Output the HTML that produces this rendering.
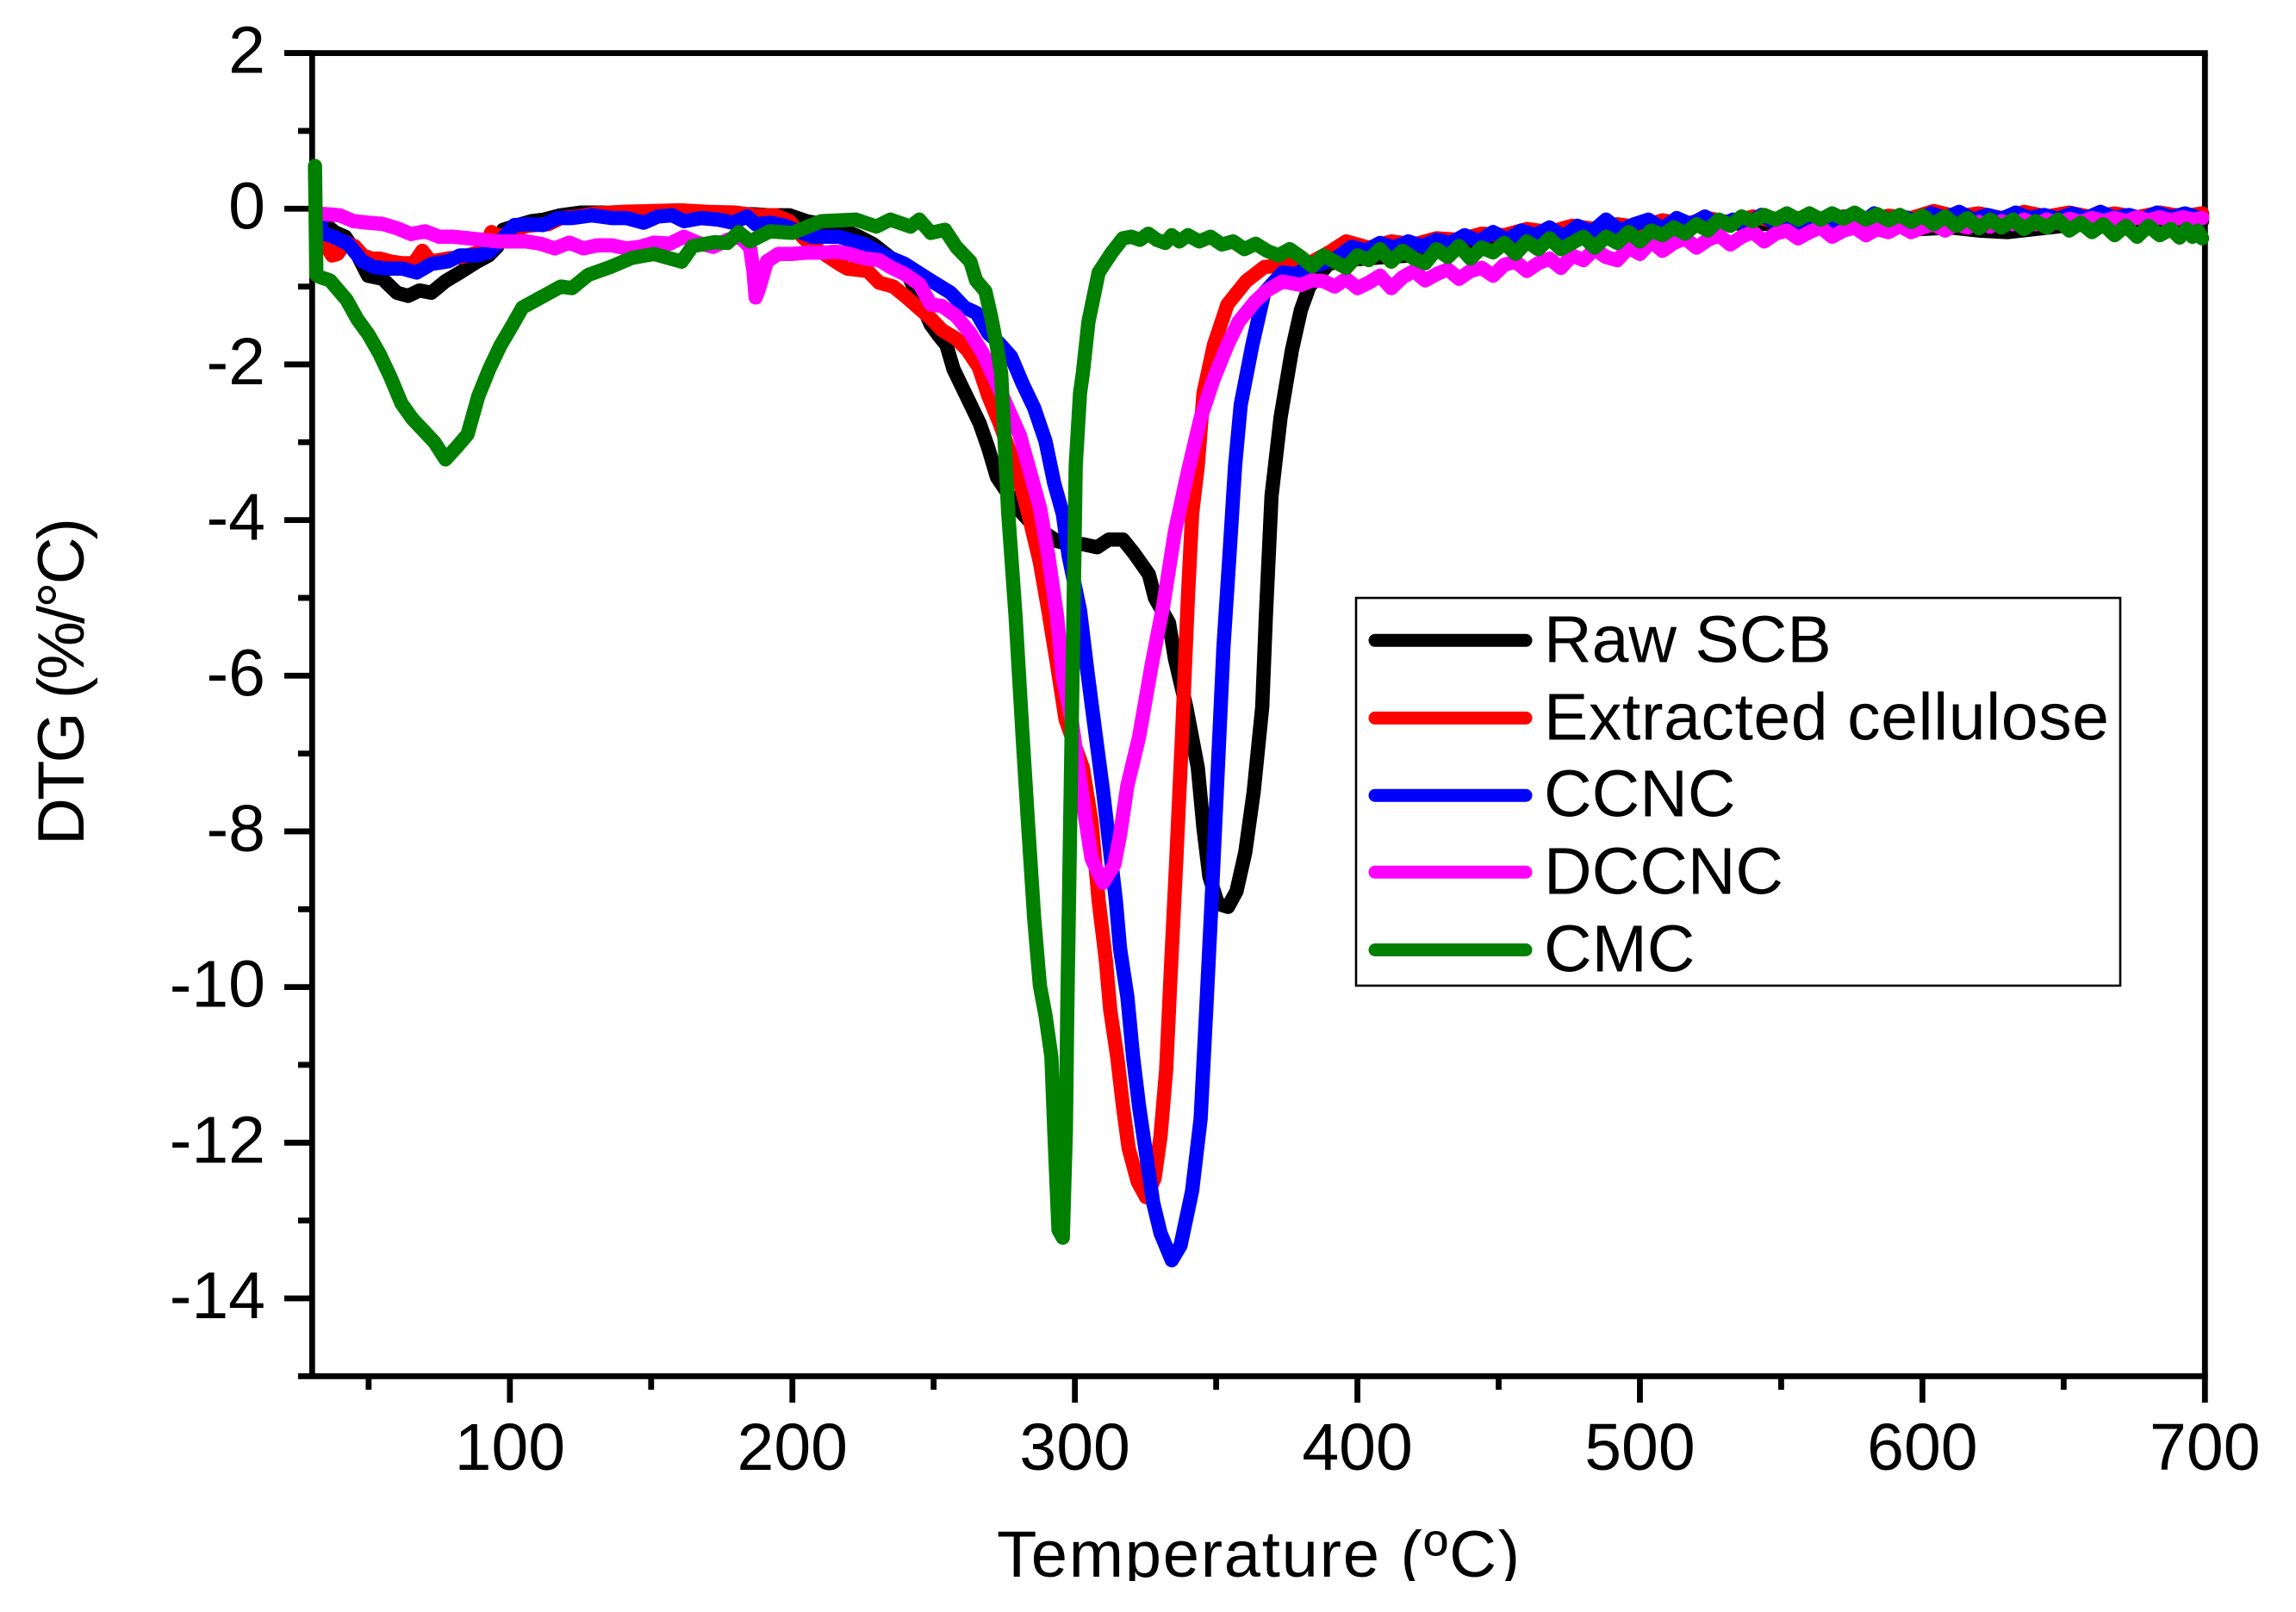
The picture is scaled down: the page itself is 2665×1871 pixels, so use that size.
<!DOCTYPE html>
<html lang="en">
<head>
<meta charset="utf-8">
<title>DTG curves</title>
<style>
html,body{margin:0;padding:0;background:#fff;}
svg{display:block;}
text{font-family:"Liberation Sans",Arial,sans-serif;fill:#000;}
</style>
</head>
<body>
<svg id="chart" xmlns="http://www.w3.org/2000/svg" width="2665" height="1871" viewBox="0 0 2665 1871">
  <defs>
    <clipPath id="title-clip"><rect x="1100" y="1740" width="760" height="95"/></clipPath>
  </defs>
  <rect x="0" y="0" width="2665" height="1871" fill="#fff"/>
  <g id="axes"></g>
  <g id="series"></g>
  <text transform="translate(97,981) rotate(-90)" font-size="76" textLength="380" lengthAdjust="spacing">DTG (%/°C)</text>
  <g clip-path="url(#title-clip)">
    <text x="1157" y="1830" font-size="76" textLength="607" lengthAdjust="spacing">Temperature (ºC)</text>
  </g>
  <g>
    <rect x="1574" y="694" width="887" height="450" fill="#fff" stroke="#000" stroke-width="2.6"/>
    <line x1="1596" x2="1771" y1="743.3" y2="743.3" stroke="#000" stroke-width="15" stroke-linecap="round"/>
    <line x1="1596" x2="1771" y1="833.4" y2="833.4" stroke="#f00" stroke-width="15" stroke-linecap="round"/>
    <line x1="1596" x2="1771" y1="923.2" y2="923.2" stroke="#00f" stroke-width="15" stroke-linecap="round"/>
    <line x1="1596" x2="1771" y1="1012.3" y2="1012.3" stroke="#f0f" stroke-width="15" stroke-linecap="round"/>
    <line x1="1596" x2="1771" y1="1102.5" y2="1102.5" stroke="#008000" stroke-width="15" stroke-linecap="round"/>
    <text x="1792" y="768.6" font-size="77">Raw SCB</text>
    <text x="1792" y="858.7" font-size="77" textLength="656" lengthAdjust="spacing">Extracted cellulose</text>
    <text x="1792" y="947.5" font-size="77">CCNC</text>
    <text x="1792" y="1037.6" font-size="77">DCCNC</text>
    <text x="1792" y="1127.7" font-size="77">CMC</text>
  </g>
</svg>
<script>
var xMajorTicks = [100,200,300,400,500,600,700];
var xMinorTicks = [50,150,250,350,450,550,650];
var yMajorTicks = [2,0,-2,-4,-6,-8,-10,-12,-14];
var yMinorTicks = [1,-1,-3,-5,-7,-9,-11,-13];
var xDomain = [30,700];
var yDomain = [-15,2];

var rawTemps = [32,35.6,38,41.7,45.7,49.8,54.9,60,64,68,72.2,77.2,82.3,88.4,92.5,95.5,97.6,102,107.7,112,117.9,125,133,140,150,160,170,178,186,192,199,205,215.4,223.6,228.6,233.7,240,243.9,249,252,254.5,257,262.2,266.3,269.3,272.4,275.4,279.5,283.5,288.6,293.7,297.8,302.8,307.9,312,317,321,326.2,328.3,333.3,335.4,339.4,343.5,345.5,347.6,350.6,354.2,357.2,360.3,363.3,366.3,367.6,369.6,372.8,376.8,380,383,389.7,396,402.6,410,419,430,440,450,460,470,480,490,500,510,520,530,540,550,560,570,580,590,600,610,620,630,640,650,660,670,680,690,699];
var rawDTG = [-0.2,-0.23,-0.3,-0.36,-0.57,-0.86,-0.9,-1.08,-1.12,-1.05,-1.08,-0.93,-0.82,-0.68,-0.6,-0.49,-0.27,-0.22,-0.16,-0.14,-0.085,-0.05,-0.05,-0.06,-0.05,-0.06,-0.05,-0.07,-0.07,-0.085,-0.085,-0.16,-0.23,-0.36,-0.455,-0.6,-0.78,-1.08,-1.49,-1.64,-1.75,-2.06,-2.45,-2.76,-3.07,-3.45,-3.61,-3.84,-4.0,-4.15,-4.27,-4.31,-4.31,-4.35,-4.25,-4.25,-4.43,-4.7,-5.0,-5.32,-5.78,-6.4,-7.18,-7.96,-8.58,-8.93,-8.97,-8.77,-8.27,-7.49,-6.4,-5.24,-3.69,-2.68,-1.82,-1.3,-1.0,-0.71,-0.66,-0.64,-0.62,-0.6,-0.52,-0.46,-0.38,-0.34,-0.28,-0.26,-0.24,-0.22,-0.2,-0.2,-0.18,-0.2,-0.19,-0.2,-0.22,-0.24,-0.22,-0.26,-0.24,-0.28,-0.3,-0.26,-0.22,-0.2,-0.18,-0.16,-0.18,-0.16,-0.2];

var celluloseTemps = [32,34.6,37,39,42,45,48,51,54,58,62,66,69,72,78,83,90,93.5,96,100,106,112,113.5,118,124,130,140,150,160,170,180,187,194,199,204,210,217,219.5,226.6,230.7,235.7,239.8,243.9,249,253,258,262,266,269.3,273.4,279.5,283.5,287.6,290.6,293.7,296.7,299.5,302.8,305.9,308.4,311,312.5,315,317,319,322.2,325.2,328.2,330.3,332.3,333.8,335.9,337.9,340,341.5,343.5,345.5,349.2,354,360.6,367,375,383,390,396,404,412,420,428,436,444,452,460,468,476,484,492,500,508,516,524,532,540,548,556,564,572,580,588,596,604,612,620,628,636,644,652,660,668,676,684,692,699];
var celluloseDTG = [-0.28,-0.45,-0.6,-0.58,-0.43,-0.48,-0.6,-0.64,-0.64,-0.68,-0.7,-0.7,-0.54,-0.68,-0.64,-0.62,-0.55,-0.3,-0.36,-0.3,-0.22,-0.2,-0.2,-0.12,-0.1,-0.06,-0.04,-0.03,-0.02,-0.04,-0.05,-0.085,-0.085,-0.16,-0.38,-0.55,-0.72,-0.77,-0.8,-0.95,-1.0,-1.12,-1.25,-1.41,-1.56,-1.67,-1.82,-2.04,-2.4,-2.76,-3.38,-3.92,-4.54,-5.16,-5.86,-6.56,-6.85,-7.18,-7.88,-8.89,-9.67,-10.29,-10.9,-11.53,-12.07,-12.5,-12.7,-12.46,-11.92,-11.06,-9.9,-8.35,-6.79,-5.0,-3.92,-3.3,-2.37,-1.75,-1.23,-0.93,-0.75,-0.72,-0.7,-0.56,-0.42,-0.5,-0.42,-0.46,-0.38,-0.4,-0.32,-0.34,-0.26,-0.3,-0.22,-0.26,-0.2,-0.24,-0.15,-0.2,-0.12,-0.18,-0.1,-0.16,-0.12,-0.14,-0.1,-0.15,-0.09,-0.12,-0.03,-0.1,-0.06,-0.12,-0.04,-0.1,-0.05,-0.11,-0.06,-0.11,-0.05,-0.1,-0.06,-0.12,-0.07];

var ccncTemps = [33,33.6,37.6,42.7,47.8,51.9,57,62,67,72.2,78.3,82.3,88.4,92.5,97,101.6,106.7,111.8,116.9,122,129,136,141.3,147.4,152.4,157.5,161.6,167.7,173.8,178.9,184,187,192,197,207,216.4,225.6,232.7,239.8,248,256,261,265.2,269.3,273,277.4,281.5,285.6,289.6,292.7,295.7,297.8,301.8,304.4,306.9,310,312,314.5,316,318.6,320.6,322.7,325.2,327.7,330.3,334.3,337.4,341.5,344.5,346.5,348.6,350.6,352.6,354.7,356.7,358.7,362.8,367,373.5,378,383,388,393,398,403,408,413,418,423,428,433,438,443,448,453,458,463,468,473,478,483,488,493,498,503,508,513,518,523,528,533,538,543,548,553,558,563,568,573,578,583,588,593,598,603,608,613,618,623,628,633,638,643,648,653,658,663,668,673,678,683,688,693,698];
var ccncDTG = [-0.18,-0.31,-0.36,-0.45,-0.675,-0.75,-0.77,-0.77,-0.82,-0.71,-0.675,-0.6,-0.6,-0.56,-0.4,-0.21,-0.2,-0.21,-0.12,-0.12,-0.085,-0.12,-0.12,-0.18,-0.1,-0.085,-0.16,-0.12,-0.14,-0.18,-0.1,-0.2,-0.18,-0.215,-0.36,-0.36,-0.455,-0.6,-0.71,-0.9,-1.08,-1.27,-1.34,-1.6,-1.72,-1.9,-2.25,-2.56,-2.99,-3.53,-3.92,-4.46,-5.16,-5.94,-6.64,-7.49,-8.11,-8.89,-9.51,-10.13,-10.9,-11.53,-12.15,-12.77,-13.16,-13.51,-13.32,-12.62,-11.69,-10.29,-8.74,-7.18,-5.63,-4.46,-3.3,-2.52,-1.75,-1.08,-0.82,-0.84,-0.75,-0.7,-0.62,-0.49,-0.54,-0.44,-0.5,-0.42,-0.48,-0.4,-0.44,-0.34,-0.42,-0.3,-0.4,-0.28,-0.34,-0.24,-0.36,-0.22,-0.3,-0.14,-0.28,-0.2,-0.14,-0.26,-0.12,-0.2,-0.1,-0.22,-0.14,-0.2,-0.08,-0.18,-0.1,-0.2,-0.12,-0.18,-0.1,-0.2,-0.06,-0.14,-0.1,-0.16,-0.06,-0.12,-0.04,-0.14,-0.08,-0.13,-0.05,-0.12,-0.08,-0.13,-0.06,-0.12,-0.04,-0.12,-0.08,-0.13,-0.05,-0.11,-0.06,-0.12,-0.04,-0.11,-0.07,-0.11,-0.05,-0.09];

var dccncTemps = [32,33.5,39.7,44.7,49.8,54.9,60,65,70,75,80,85.4,90.5,95.5,100.6,105.7,110.8,115.9,121,126,131,136,141.3,146,151,156.5,161.6,166.7,172,177,181,183,185,186.2,187,188,191,195,200,205,211,215.4,220.5,225.6,230.7,234.7,239.8,245,249,253,258,263,267.3,274.4,280.5,283.5,287.6,290.6,293.7,295.7,298.8,301.8,303.9,305.9,310,314,316,318.6,322.7,327.2,331.3,335.4,340,344.4,349,354,358,363.8,368,373.5,380,384,388,392,396,400,404,408,412,416,420,424,428,432,436,440,444,448,452,456,460,464,468,472,476,480,484,488,492,496,500,504,508,512,516,520,524,528,532,536,540,544,548,552,556,560,564,568,572,576,580,584,588,592,596,600,604,608,612,616,620,624,628,632,636,640,644,648,652,656,660,664,668,672,676,680,684,688,692,696,699];
var dccncDTG = [-0.05,-0.066,-0.085,-0.16,-0.18,-0.195,-0.25,-0.325,-0.29,-0.36,-0.36,-0.38,-0.4,-0.42,-0.42,-0.42,-0.45,-0.51,-0.435,-0.51,-0.47,-0.47,-0.51,-0.49,-0.435,-0.45,-0.36,-0.44,-0.49,-0.4,-0.36,-0.42,-0.5,-0.8,-1.14,-1.05,-0.676,-0.58,-0.58,-0.565,-0.565,-0.55,-0.584,-0.64,-0.66,-0.75,-0.84,-0.97,-1.23,-1.25,-1.38,-1.6,-1.85,-2.41,-2.91,-3.3,-3.84,-4.46,-5.24,-6.02,-6.56,-7.34,-7.88,-8.35,-8.66,-8.42,-8.04,-7.41,-6.79,-5.86,-5.09,-4.15,-3.38,-2.7,-2.2,-1.75,-1.45,-1.19,-1.05,-0.935,-0.98,-0.92,-0.93,-1.0,-0.9,-1.02,-0.95,-0.86,-1.02,-0.88,-0.8,-0.92,-0.84,-0.78,-0.9,-0.8,-0.76,-0.86,-0.72,-0.68,-0.8,-0.7,-0.64,-0.76,-0.6,-0.66,-0.52,-0.62,-0.66,-0.5,-0.58,-0.42,-0.54,-0.44,-0.38,-0.5,-0.4,-0.34,-0.46,-0.36,-0.3,-0.42,-0.32,-0.28,-0.38,-0.3,-0.24,-0.36,-0.28,-0.24,-0.34,-0.26,-0.3,-0.22,-0.3,-0.24,-0.2,-0.28,-0.2,-0.24,-0.17,-0.23,-0.16,-0.2,-0.14,-0.2,-0.14,-0.18,-0.13,-0.17,-0.12,-0.16,-0.12,-0.16,-0.11,-0.15,-0.11,-0.15,-0.11,-0.14,-0.12];

var cmcTemps = [31,31.5,33,36.3,42.2,46,50,53.8,57.7,61.6,65.5,69.4,73.3,77.2,81,85,88.8,92.7,96.6,100.5,104.4,112,118,122,127.7,135.5,143.3,151,160.8,164.7,172.4,177,181,185,192,200,210.3,222.5,229.7,234.7,241.8,244.9,249,254,258,263,265,268.3,270.3,272.3,273.9,276.4,279,281.5,283.5,285.6,287.6,289.6,291.7,292.7,294.2,295.7,296.8,297.3,298.3,299.3,300.3,301.8,302.8,304.8,308.4,313,317,320,323,326,329,332,334.3,337,340,344,348,352,356,360,364,368,372,376,380,384,388,392,396,400,404,408,412,416,420,424,428,432,436,440,444,448,452,456,460,464,468,472,476,480,484,488,492,496,500,504,508,512,516,520,524,528,532,536,540,544,548,552,556,560,564,568,572,576,580,584,588,592,596,600,604,608,612,616,620,624,628,632,636,640,644,648,652,656,660,664,668,672,676,680,684,688,691,693.5,695.6,697.5,699];
var cmcDTG = [0.55,-0.85,-0.88,-0.92,-1.17,-1.42,-1.62,-1.86,-2.16,-2.5,-2.7,-2.85,-3.0,-3.22,-3.07,-2.9,-2.41,-2.06,-1.76,-1.52,-1.27,-1.12,-1.0,-1.02,-0.85,-0.75,-0.63,-0.58,-0.68,-0.48,-0.43,-0.44,-0.3,-0.42,-0.29,-0.31,-0.16,-0.14,-0.23,-0.14,-0.23,-0.14,-0.31,-0.27,-0.49,-0.68,-0.92,-1.06,-1.38,-1.75,-2.12,-3.92,-5.24,-6.79,-7.96,-9.12,-9.98,-10.37,-10.9,-11.84,-13.12,-13.22,-11.84,-10.3,-7.96,-5.63,-3.3,-2.37,-2.12,-1.45,-0.82,-0.565,-0.38,-0.36,-0.4,-0.32,-0.4,-0.44,-0.34,-0.42,-0.34,-0.42,-0.36,-0.46,-0.42,-0.52,-0.45,-0.54,-0.6,-0.52,-0.62,-0.74,-0.6,-0.68,-0.76,-0.6,-0.66,-0.52,-0.68,-0.54,-0.64,-0.7,-0.52,-0.62,-0.48,-0.64,-0.5,-0.56,-0.44,-0.58,-0.42,-0.52,-0.38,-0.52,-0.44,-0.36,-0.5,-0.36,-0.44,-0.3,-0.42,-0.28,-0.34,-0.24,-0.32,-0.2,-0.28,-0.14,-0.22,-0.1,-0.16,-0.08,-0.14,-0.06,-0.14,-0.06,-0.14,-0.06,-0.13,-0.05,-0.14,-0.07,-0.15,-0.08,-0.17,-0.09,-0.2,-0.1,-0.22,-0.12,-0.25,-0.14,-0.24,-0.14,-0.26,-0.16,-0.24,-0.14,-0.28,-0.18,-0.3,-0.2,-0.34,-0.22,-0.36,-0.22,-0.34,-0.26,-0.37,-0.26,-0.36,-0.28,-0.38,-0.27,-0.39,-0.28,-0.38,-0.56,-0.42,-0.32];

var svgNS = 'http://www.w3.org/2000/svg';
var plotLeft = 362.3, plotRight = 2559.3, plotTop = 61.6, plotBottom = 1597.3;

function xScale(t){ return plotLeft + (t - xDomain[0]) * (plotRight - plotLeft) / (xDomain[1] - xDomain[0]); }
function yScale(v){ return plotTop + (yDomain[1] - v) * (plotBottom - plotTop) / (yDomain[1] - yDomain[0]); }

function makeLine(parent, x1, y1, x2, y2, w){
  var el = document.createElementNS(svgNS, 'line');
  el.setAttribute('x1', x1);
  el.setAttribute('y1', y1);
  el.setAttribute('x2', x2);
  el.setAttribute('y2', y2);
  el.setAttribute('stroke', '#000');
  el.setAttribute('stroke-width', w);
  parent.appendChild(el);
  return el;
}

var axesGroup = document.getElementById('axes');
var axisW = 6.8;

var topAxis = makeLine(axesGroup, 330, plotTop, plotRight + 3.4, plotTop, axisW);



var bottomAxis = makeLine(axesGroup, 346, plotBottom, plotRight + 3.4, plotBottom, axisW);



var leftAxis = makeLine(axesGroup, plotLeft, plotTop, plotLeft, plotBottom, axisW);



var rightAxis = makeLine(axesGroup, plotRight, plotTop, plotRight, plotBottom, axisW);



yMajorTicks.forEach(function(v){
  var tick = makeLine(axesGroup, 330, yScale(v), plotLeft, yScale(v), axisW);
  
  
  var label = document.createElementNS(svgNS, 'text');
  label.setAttribute('x', 308);
  label.setAttribute('y', yScale(v) + 23);
  label.setAttribute('text-anchor', 'end');
  label.setAttribute('font-size', '77');
  label.textContent = String(v);
  
  
  axesGroup.appendChild(label);
});

yMinorTicks.forEach(function(v){
  var tick = makeLine(axesGroup, 346, yScale(v), plotLeft, yScale(v), axisW);
  
  
});

xMajorTicks.forEach(function(t){
  var tick = makeLine(axesGroup, xScale(t), plotBottom, xScale(t), 1628, axisW);
  
  
  var label = document.createElementNS(svgNS, 'text');
  label.setAttribute('x', xScale(t));
  label.setAttribute('y', 1706);
  label.setAttribute('text-anchor', 'middle');
  label.setAttribute('font-size', '77');
  label.textContent = String(t);
  
  
  axesGroup.appendChild(label);
});

xMinorTicks.forEach(function(t){
  var tick = makeLine(axesGroup, xScale(t), plotBottom, xScale(t), 1613, axisW);
  
  
});

function drawSeries(temps, values, color){
  var pts = temps.map(function(t, i){ return xScale(t).toFixed(1) + ',' + yScale(values[i]).toFixed(1); }).join(' ');
  var el = document.createElementNS(svgNS, 'polyline');
  el.setAttribute('points', pts);
  el.setAttribute('fill', 'none');
  el.setAttribute('stroke', color);
  el.setAttribute('stroke-width', '16.5');
  el.setAttribute('stroke-linejoin', 'round');
  el.setAttribute('stroke-linecap', 'round');
  document.getElementById('series').appendChild(el);
  return el;
}

var rawLine = drawSeries(rawTemps, rawDTG, '#000');



var celluloseLine = drawSeries(celluloseTemps, celluloseDTG, '#f00');



var ccncLine = drawSeries(ccncTemps, ccncDTG, '#00f');



var dccncLine = drawSeries(dccncTemps, dccncDTG, '#f0f');



var cmcLine = drawSeries(cmcTemps, cmcDTG, '#008000');


</script>
</body>
</html>
